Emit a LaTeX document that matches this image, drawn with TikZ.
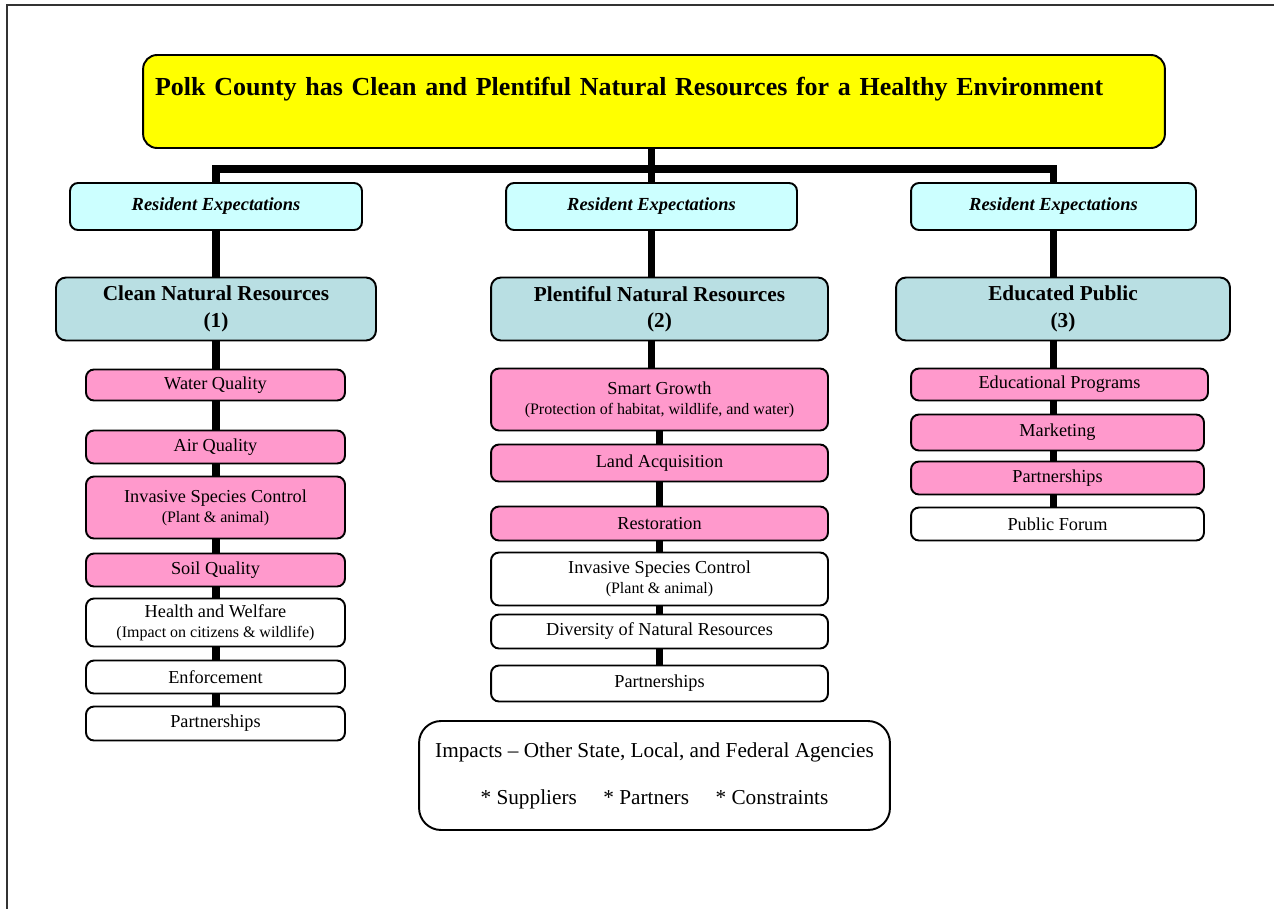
\documentclass[tikz,border=0pt]{standalone}
\usepackage{fontspec}
\setmainfont{Liberation Serif}
\usepackage{xcolor}
\usepackage{tikz}
\usetikzlibrary{positioning,backgrounds}

\definecolor{goalyellow}{RGB}{255,255,0}
\definecolor{expcyan}{RGB}{204,255,255}
\definecolor{areablue}{RGB}{185,223,227}
\definecolor{itempink}{RGB}{255,153,204}

\newcommand{\subline}[1]{{\fontsize{9.1}{11}\selectfont #1}}

\begin{document}
\begin{tikzpicture}[
        x=0.02cm, y=-0.02cm,
        box/.style={draw, line width=1.1pt, rounded corners=0.16cm, align=center, inner sep=0pt},
        goal/.style={box, fill=goalyellow, rounded corners=0.28cm, align=left, text width=19.96cm, text height=0.8cm, text depth=1.06cm, inner xsep=0.24cm, font=\fontsize{14.8}{18}\selectfont\bfseries},
        expect/.style={box, fill=expcyan, minimum height=0.94cm, font=\fontsize{10.5}{12}\selectfont\bfseries\itshape},
        area/.style={box, fill=areablue, rounded corners=0.2cm, minimum height=1.26cm, font=\fontsize{12.1}{15}\selectfont\bfseries},
        pitem/.style={box, fill=itempink, font=\fontsize{10.4}{11.5}\selectfont},
        witem/.style={box, fill=white, font=\fontsize{10.4}{11.5}\selectfont},
        impact/.style={box, fill=white, rounded corners=0.44cm, font=\fontsize{12.1}{14.5}\selectfont},
        trunk/.style={line width=4.5pt},
        frame/.style={line width=1pt, black!80},
    ]
        \useasboundingbox (0,0) rectangle (1274,909);
        \draw[frame] (7,909) -- (7,5) -- (1274,5);

        % Goal
        \node (goal) [goal] at (654,101.5) {Polk County has Clean and Plentiful Natural Resources for a Healthy Environment};

        % Resident expectations
        \node (expL) [expect, minimum width=5.84cm] at (216,206.5) {Resident Expectations};
        \node (expM) [expect, minimum width=5.82cm] at (651.5,206.5) {Resident Expectations};
        \node (expR) [expect, minimum width=5.7cm] at (1053.5,206.5) {Resident Expectations};

        % Focus areas
        \node (areaL) [area, minimum width=6.4cm] at (216,309) {Clean Natural Resources\\(1)};
        \node (areaM) [area, minimum width=6.74cm] at (659.5,309) {Plentiful Natural Resources\\(2)};
        \node (areaR) [area, minimum width=6.68cm] at (1063,309) {Educated Public\\(3)};

        % Column 1 (Clean)
        \node (water) [pitem, minimum width=5.18cm, minimum height=0.62cm] at (215.5,385) {Water Quality};
        \node (air) [pitem, minimum width=5.18cm, minimum height=0.66cm] at (215.5,447) {Air Quality};
        \node (invL) [pitem, minimum width=5.18cm, minimum height=1.24cm] at (215.5,507.5) {Invasive Species Control\\\subline{(Plant \& animal)}};
        \node (soil) [pitem, minimum width=5.18cm, minimum height=0.66cm] at (215.5,570) {Soil Quality};
        \node (health) [witem, minimum width=5.18cm, minimum height=0.96cm] at (215.5,622.5) {Health and Welfare\\\subline{(Impact on citizens \& wildlife)}};
        \node (enforce) [witem, minimum width=5.18cm, minimum height=0.66cm] at (215.5,677) {Enforcement};
        \node (partL) [witem, minimum width=5.18cm, minimum height=0.68cm] at (215.5,723.5) {Partnerships};

        % Column 2 (Plentiful)
        \node (smart) [pitem, minimum width=6.74cm, minimum height=1.24cm] at (659.5,399.5) {Smart Growth\\\subline{(Protection of habitat, wildlife, and water)}};
        \node (land) [pitem, minimum width=6.74cm, minimum height=0.74cm] at (659.5,463) {Land Acquisition};
        \node (restore) [pitem, minimum width=6.74cm, minimum height=0.68cm] at (659.5,523.5) {Restoration};
        \node (invM) [witem, minimum width=6.74cm, minimum height=1.06cm] at (659.5,579) {Invasive Species Control\\\subline{(Plant \& animal)}};
        \node (diverse) [witem, minimum width=6.74cm, minimum height=0.68cm] at (659.5,631.5) {Diversity of Natural Resources};
        \node (partM) [witem, minimum width=6.74cm, minimum height=0.72cm] at (659.5,683.5) {Partnerships};

        % Column 3 (Educated)
        \node (eduprog) [pitem, minimum width=5.94cm, minimum height=0.64cm] at (1059.5,384.5) {Educational Programs};
        \node (market) [pitem, minimum width=5.86cm, minimum height=0.72cm] at (1057.5,432.5) {Marketing};
        \node (partR) [pitem, minimum width=5.86cm, minimum height=0.66cm] at (1057.5,478) {Partnerships};
        \node (forum) [witem, minimum width=5.86cm, minimum height=0.66cm] at (1057.5,524) {Public Forum};

        % Impacts
        \node (impacts) [impact, minimum width=9.42cm, minimum height=2.18cm] at (654.5,775.5) {Impacts -- Other State, Local, and Federal Agencies\\[0.43cm]* Suppliers\quad\ * Partners\quad\ * Constraints};

        % --- Trunks ---
        \begin{pgfonlayer}{background}
        \draw[trunk] (expL.north) -- ++(0,-13) -| (expR.north);
        \draw[trunk] (goal.south -| expM.north) -- (expM.north);
        \draw[trunk] (expL) -- (expL |- partL);
        \draw[trunk] (expM) -- (expM |- smart);
        \draw[trunk] (smart) -- (partM);
        \draw[trunk] (expR) -- (expR |- forum);
        \end{pgfonlayer}

    \end{tikzpicture}
\end{document}
